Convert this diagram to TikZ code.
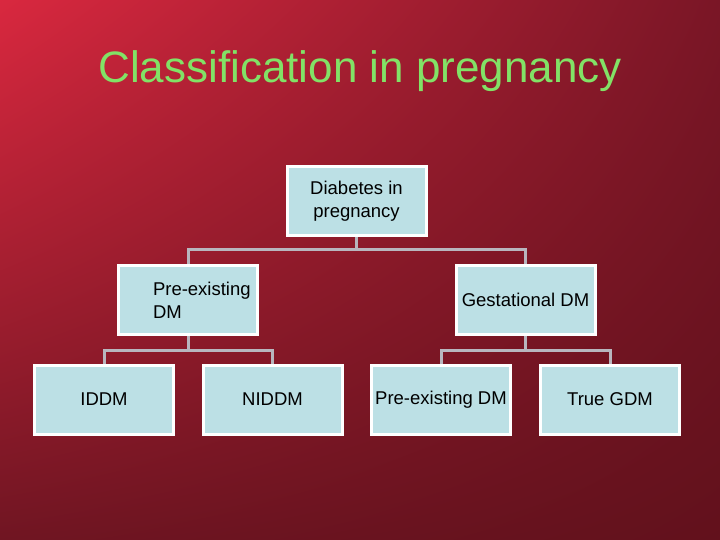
\documentclass[tikz,border=0pt]{standalone}
\usepackage{fontspec}
\setmainfont{Liberation Sans}
\usetikzlibrary{shadings}
\definecolor{bgA}{HTML}{D9283F}
\definecolor{bgB}{HTML}{7A1626}
\definecolor{bgC}{HTML}{701522}
\definecolor{bgD}{HTML}{62111C}
\definecolor{boxfill}{HTML}{BCE0E5}
\definecolor{conncol}{HTML}{B8B6BE}
\definecolor{titlegreen}{HTML}{82E266}
\pgfdeclarelayer{back}
\pgfdeclarelayer{background}
\pgfsetlayers{back,background,main}
\tikzset{
  box/.style={draw=white, line width=3bp, fill=boxfill, minimum width=139bp, minimum height=69bp,
    inner sep=0pt, font=\fontsize{18.5bp}{23bp}\selectfont, text=black, align=center},
  conn/.style={draw=conncol, line width=3bp, line join=miter}
}
\begin{document}
\begin{tikzpicture}[x=1bp,y=-1bp]
\useasboundingbox (0,0) rectangle (720,540);
\begin{pgfonlayer}{back}
\shade[upper left=bgA, upper right=bgB, lower left=bgC, lower right=bgD] (0,0) rectangle (720,540);
\end{pgfonlayer}
\node[text=titlegreen, font=\fontsize{44bp}{50bp}\selectfont, inner sep=0pt, anchor=base] (title) at (360,83) {Classification in pregnancy};
\node[box] (top) at (356.5,201) {Diabetes in\\pregnancy};
\node[box, text width=136bp, align=left] (pre) at (188,300) {\hspace*{33bp}Pre-existing\\\hspace*{33bp}DM};
\node[box] (gest) at (525.5,300) {Gestational DM};
\node[box] (iddm) at (104,399.5) {IDDM};
\node[box] (niddm) at (272.5,399.5) {NIDDM};
\node[box] (pdm) at (441,399.5) {Pre-existing DM};
\node[box] (tgdm) at (610,399.5) {True GDM};
\coordinate (b1) at (356.5,250);
\coordinate (b2) at (188,350);
\coordinate (b3) at (525.5,350);
\begin{pgfonlayer}{background}
\draw[conn] (top.south) -- (b1);
\draw[conn] (pre.north) |- (b1) -| (gest.north);
\draw[conn] (pre.south) -- (b2);
\draw[conn] (iddm.north) |- (b2) -| (niddm.north);
\draw[conn] (gest.south) -- (b3);
\draw[conn] (pdm.north) |- (b3) -| (tgdm.north);
\end{pgfonlayer}
\end{tikzpicture}
\end{document}
